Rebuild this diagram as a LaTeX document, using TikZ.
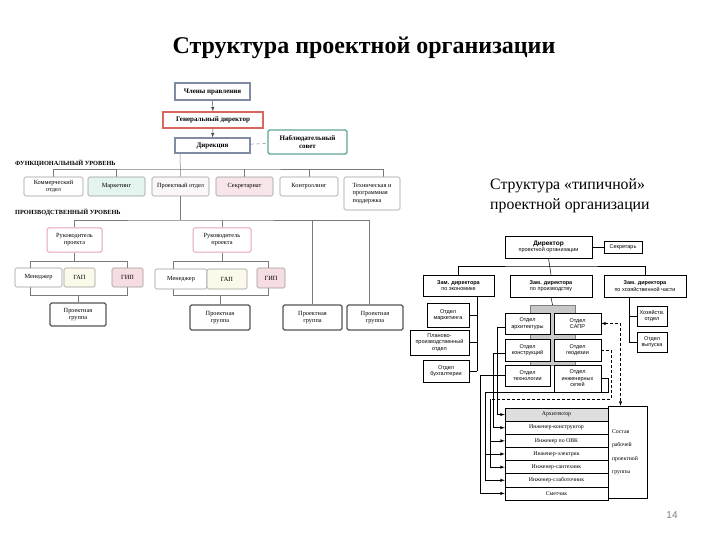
\documentclass[tikz,border=0pt]{standalone}
\usepackage{fontspec}
\setmainfont{Liberation Serif}
\newfontfamily\chartsans{Liberation Sans}
\usetikzlibrary{arrows,backgrounds}

\definecolor{slategray}{HTML}{7F8CA3}
\definecolor{headred}{HTML}{D9675E}
\definecolor{councilteal}{HTML}{5BA596}
\definecolor{leadpink}{HTML}{E4A3B3}
\definecolor{groupgray}{HTML}{555555}
\definecolor{boxgray}{HTML}{9A9A9A}
\definecolor{linegray}{HTML}{7A7A7A}
\definecolor{mintfill}{HTML}{E4F4EE}
\definecolor{palefill}{HTML}{FBF6F8}
\definecolor{rosefill}{HTML}{F8E5EA}
\definecolor{creamfill}{HTML}{FBFAEA}
\definecolor{gipfill}{HTML}{F6DDE1}
\definecolor{bandgray}{HTML}{C8C8C8}

\newcommand\colorBoard{slategray}
\newcommand\colorHead{headred}
\newcommand\colorCouncil{councilteal}
\newcommand\colorLead{leadpink}
\newcommand\colorGroup{groupgray}
\newcommand\colorLeftBox{boxgray}
\newcommand\colorLeftLine{linegray}
\newcommand\rowHeight{13.14}
\newcommand\rowTop{408}

\tikzset{
	boxsize/.style 2 args={minimum width=#1pt, minimum height=#2pt},
	topbox/.style={draw, line width=1.2pt, fill=white, inner sep=0pt, align=center,
		font=\bfseries\fontsize{7}{8}\selectfont},
	leftbox/.style={draw=\colorLeftBox, line width=0.6pt, fill=white, rounded corners=1.5pt,
		inner sep=0pt, align=center, font=\fontsize{6.3}{7.2}\selectfont},
	leadbox/.style={leftbox, draw=\colorLead, line width=1pt},
	groupbox/.style={leftbox, draw=\colorGroup, line width=1.3pt},
	levellabel/.style={anchor=west, inner sep=0pt, font=\bfseries\fontsize{6.3}{7}\selectfont},
	leftline/.style={draw=\colorLeftLine, line width=0.5pt},
	leftarrow/.style={leftline, draw=black!70, -latex},
	rightbox/.style={draw, line width=0.5pt, fill=white, inner sep=0pt, align=center,
		font=\chartsans\fontsize{5.5}{6.4}\selectfont},
	zambox/.style={rightbox, line width=0.9pt},
	rowbox/.style={draw, line width=0.5pt, inner sep=0pt, boxsize={103}{\rowHeight},
		font=\fontsize{5.8}{6.3}\selectfont},
	rightline/.style={draw, line width=0.5pt},
	rightarrow/.style={rightline, -latex}
}

\begin{document}
\begin{tikzpicture}[x=1pt, y=-1pt]
	\useasboundingbox (0,0) rectangle (720,540);
	
	% titles
	\node[font=\bfseries\fontsize{24}{28}\selectfont] (title) at (364,48) {Структура проектной организации};
	\node[anchor=north west, align=left, inner sep=0pt, font=\fontsize{15.8}{20}\selectfont]
		(subtitle) at (490,178) {Структура «типичной»\\проектной организации};
	\node[font=\chartsans\fontsize{10}{12}\selectfont, text=gray] (pageno) at (672,515) {14};
	
	% left chart: top level
	\node[topbox, draw=\colorBoard, boxsize={75}{17}] (board) at (212.5,91.5) {Члены правления};
	\node[topbox, draw=\colorHead, boxsize={100}{16}] (gendir) at (213,120) {Генеральный директор};
	\node[topbox, draw=\colorBoard, boxsize={75}{15}] (direct) at (212.5,145.5) {Дирекция};
	\node[topbox, draw=\colorCouncil, boxsize={79}{24}, rounded corners=1.5pt]
		(council) at (307.5,142) {Наблюдательный\\совет};
	
	\node[levellabel] (funclevel) at (15,163) {ФУНКЦИОНАЛЬНЫЙ УРОВЕНЬ};
	\node[levellabel] (prodlevel) at (15,212) {ПРОИЗВОДСТВЕННЫЙ УРОВЕНЬ};
	
	\foreach \name/\x/\w/\fillc/\txt in {
		comm/53.5/59/white/{Коммерческий\\отдел},
		mark/116.5/57/mintfill/Маркетинг,
		projdep/180.5/57/palefill/{Проектный отдел},
		secr/244.5/57/rosefill/Секретариат,
		contr/309/58/white/Контроллинг}{
		\node[leftbox, fill=\fillc, boxsize={\w}{19}] (\name) at (\x,186.5) {\txt};
	}
	\node[leftbox, boxsize={56}{33}, align=left] (tech) at (372,193.5)
		{Техническая и\\программная\\поддержка};
	
	% left chart: production level
	\node[leadbox, boxsize={55}{24}] (lead1) at (74.5,240) {Руководитель\\проекта};
	\node[leadbox, boxsize={58}{24}] (lead2) at (222,240) {Руководитель\\проекта};
	
	\node[leftbox, boxsize={47}{19}] (man1) at (38.5,277.5) {Менеджер};
	\node[leftbox, fill=creamfill, boxsize={31}{19}] (gap1) at (79.5,277.5) {ГАП};
	\node[leftbox, fill=gipfill, boxsize={31}{19}] (gip1) at (127.5,277.5) {ГИП};
	\node[leftbox, boxsize={52}{20}] (man2) at (181,279) {Менеджер};
	\node[leftbox, fill=creamfill, boxsize={40}{20}] (gap2) at (227,279) {ГАП};
	\node[leftbox, fill=gipfill, boxsize={28}{20}] (gip2) at (271,278) {ГИП};
	
	\node[groupbox, boxsize={56}{23}] (grp1) at (78,314.5) {Проектная\\группа};
	\node[groupbox, boxsize={60}{25}] (grp2) at (220,317.5) {Проектная\\группа};
	\node[groupbox, boxsize={59}{25}] (grp3) at (312.5,317.5) {Проектная\\группа};
	\node[groupbox, boxsize={56}{25}] (grp4) at (375,317.5) {Проектная\\группа};
	
	\coordinate (busF) at (180,169);
	\coordinate (busP) at (180,220);
	\coordinate (brA) at (30,261);
	\coordinate (brB) at (127,295);
	\coordinate (brC) at (173,261);
	\coordinate (brD) at (268,295);
	
	\begin{scope}[on background layer]
		\draw[leftarrow] (board) -- (gendir);
		\draw[leftarrow] (gendir) -- (direct);
		\draw[leftline, dashed] (direct) -- (council);
		
		\draw[leftline] (comm.north) |- (busF) -| ([xshift=11pt]tech.north);
		\foreach \name in {mark,secr,contr}{
			\draw[leftline] (\name.north) -- (\name.north |- busF);
		}
		\draw[leftline] (direct.south -| busF) -- (projdep.north);
		
		\draw[leftline] (projdep.south -| busP) -- (busP);
		\draw[leftline] (lead1.north) |- (busP) -| ([xshift=-6pt]grp4.north);
		\draw[leftline] (lead2.north) -- (lead2.north |- busP);
		\draw[leftline] (grp3.north) -- (grp3.north |- busP);
		
		\draw[leftline] (brA) rectangle (brB);
		\draw[leftline] (brC) rectangle (brD);
		\draw[leftline] (lead1.south) -- (lead1.south |- brA);
		\draw[leftline] (lead2.south) -- (lead2.south |- brC);
		\draw[leftline] (grp1.north) -- (grp1.north |- brB);
		\draw[leftline] (grp2.north) -- (grp2.north |- brD);
	\end{scope}
	
	% right chart
	\node[zambox, boxsize={87}{22}] (director) at (548.5,247)
		{\textbf{\fontsize{6.5}{7.5}\selectfont Директор}\\проектной организации};
	\node[rightbox, boxsize={38}{12}] (secretary) at (623,247) {Секретарь};
	
	\node[zambox, boxsize={71}{21}] (zamE) at (458.5,285.5) {\textbf{Зам. директора}\\по экономике};
	\node[zambox, boxsize={82}{22}] (zamP) at (551,286) {\textbf{Зам. директора}\\по производству};
	\node[zambox, boxsize={82}{22}] (zamH) at (645,286) {\textbf{Зам. директора}\\по хозяйственной части};
	
	\node[rightbox, boxsize={42}{24}] (depMark) at (448,315) {Отдел\\маркетинга};
	\node[rightbox, boxsize={59}{25}] (depPlan) at (439.5,342.5) {Планово-\\производственный\\отдел};
	\node[rightbox, boxsize={46}{22}] (depAcc) at (446,371) {Отдел\\бухгалтерии};
	
	\node[rightbox, boxsize={30}{20}] (depHouse) at (652,316) {Хозяйств.\\отдел};
	\node[rightbox, boxsize={30}{20}] (depRel) at (652,342) {Отдел\\выпуска};
	
	\node[draw=gray, fill=bandgray, line width=0.4pt, boxsize={45}{60}] (band) at (552.5,335) {};
	\node[rightbox, boxsize={45}{21}] (depArch) at (527.5,323.5) {Отдел\\архитектуры};
	\node[rightbox, boxsize={47}{21}] (depCad) at (577.5,323.5) {Отдел\\САПР};
	\node[rightbox, boxsize={45}{22}] (depConstr) at (527.5,350) {Отдел\\конструкций};
	\node[rightbox, boxsize={47}{22}] (depGeo) at (577.5,350) {Отдел\\геодезии};
	\node[rightbox, boxsize={45}{21}] (depTech) at (527.5,375.5) {Отдел\\технологии};
	\node[rightbox, boxsize={47}{27}] (depNet) at (577.5,378.5) {Отдел\\инженерных\\сетей};
	
	% staff table
	\foreach \txt [count=\i] in {Архитектор, Инженер-конструктор, Инженер по ОВК, Инженер-электрик,
		Инженер-сантехник, Инженер-слаботочник, Сметчик}{
		\node[rowbox] (r\i) at (556.5,{\rowTop+\rowHeight*\i-\rowHeight/2}) {\txt};
	}
	\node[rowbox, fill=bandgray!60] at (r1) {Архитектор};
	\node[draw, line width=0.5pt, boxsize={39}{92}, inner sep=0pt, text width=31pt, align=left,
		font=\fontsize{5.8}{13.5}\selectfont] (crew) at (627.5,452) {Состав\\рабочей\\проектной\\группы};
	
	\coordinate (busR) at (551,266);
	\coordinate (spineE) at (477,371);
	\coordinate (spineH) at (629,342);
	\coordinate (netBus) at (485,392);
	\coordinate (geoBus) at (490,399);
	
	\draw[rightline] (director.east) -- (secretary.west);
	\draw[rightline] (director.south) -- (zamP.north);
	\draw[rightline] (zamE.north) |- (busR) -| (zamH.north);
	\draw[rightline] (zamP.south) -- (band.north);
	
	\draw[rightline] (zamE.south -| spineE) -- (spineE);
	\foreach \name in {depMark,depPlan,depAcc}{
		\draw[rightline] (\name.east) -- (\name.east -| spineE);
	}
	\draw[rightline] (zamH.south -| spineH) -- (spineH);
	\foreach \name in {depHouse,depRel}{
		\draw[rightline] (\name.west) -- (\name.west -| spineH);
	}
	
	\draw[rightarrow] ([yshift=-4pt]depArch.west) -- ++(-8,0) |- (r1.west);
	\draw[rightarrow] ([yshift=-3pt]depConstr.west) -- ++(-12,0) |- (r2.west);
	\draw[rightarrow] (depTech.west) -- ++(-25,0) |- (r7.west);
	\draw[rightline] (depNet.east) -- ++(7,0) |- (netBus);
	\draw[rightarrow] (netBus) |- (r4.west);
	\draw[rightarrow] (netBus) |- (r6.west);
	\draw[rightline, densely dashed] (depGeo.east) -- ++(10,0) |- (geoBus);
	\draw[rightarrow] (geoBus) |- (r3.west);
	\draw[rightarrow] (geoBus) |- (r5.west);
	\draw[rightline, densely dashed, latex-latex] (depCad.east) -| ([xshift=-7pt]crew.north);
\end{tikzpicture}
\end{document}
